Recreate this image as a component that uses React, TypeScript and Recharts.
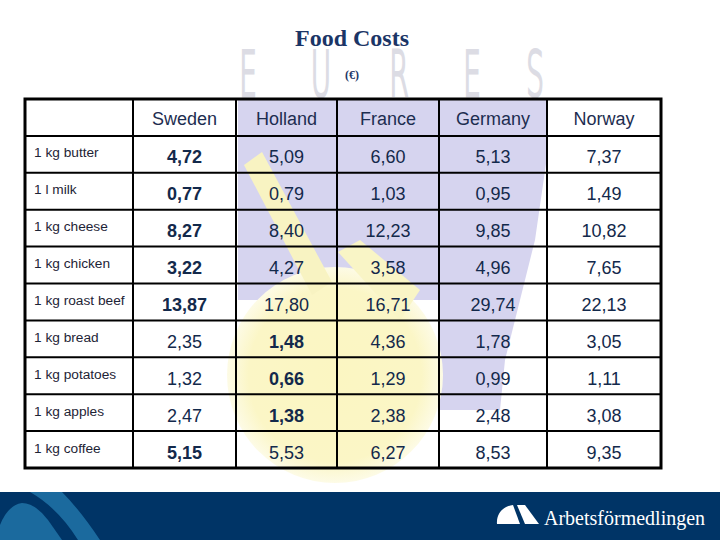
import {
  ReferenceArea,
  ReferenceLine,
  Scatter,
  ScatterChart,
  XAxis,
  YAxis,
} from 'recharts';

const countries = ['Sweden', 'Holland', 'France', 'Germany', 'Norway'];
const products = [
  '1 kg butter',
  '1 l milk',
  '1 kg cheese',
  '1 kg chicken',
  '1 kg roast beef',
  '1 kg bread',
  '1 kg potatoes',
  '1 kg apples',
  '1 kg coffee',
];
const sweden = [4.72, 0.77, 8.27, 3.22, 13.87, 2.35, 1.32, 2.47, 5.15];
const holland = [5.09, 0.79, 8.4, 4.27, 17.8, 1.48, 0.66, 1.38, 5.53];
const france = [6.6, 1.03, 12.23, 3.58, 16.71, 4.36, 1.29, 2.38, 6.27];
const germany = [5.13, 0.95, 9.85, 4.96, 29.74, 1.78, 0.99, 2.48, 8.53];
const norway = [7.37, 1.49, 10.82, 7.65, 22.13, 3.05, 1.11, 3.08, 9.35];

const series = [sweden, holland, france, germany, norway];

// column edges of the table, in px from its left border (layout only)
const colEdges = [0, 108, 211, 312, 414, 522, 636];
const colCenter = (i: number) => (colEdges[i] + colEdges[i + 1]) / 2;

const font = "'Liberation Sans', Arial, sans-serif";
const navy = '#13294b';

const headerData = countries.map((name, i) => ({
  x: colCenter(i + 1),
  y: 0.5,
  name,
}));

const productData = products.map((name, r) => ({
  x: colEdges[0],
  y: r + 1.5,
  name,
}));

// the cheapest price of each row is printed in bold
const valueData = products.flatMap((_, r) => {
  const row = series.map((s) => s[r]);
  const min = Math.min(...row);
  return row.map((v, c) => ({
    x: colCenter(c + 1),
    y: r + 1.5,
    name: v.toFixed(2).replace('.', ','),
    bold: v === min,
  }));
});

const HeaderCell = (p: any) => (
  <text x={p.cx} y={p.cy + 8} textAnchor='middle' fontFamily={font} fontSize={18} fill='#1d2d50'>
    {p.payload.name}
  </text>
);

const ProductCell = (p: any) => (
  <text x={p.cx + 9} y={p.cy + 3} textAnchor='start' fontFamily={font} fontSize={13.7} fill='#1e2436'>
    {p.payload.name}
  </text>
);

const ValueCell = (p: any) => (
  <text
    x={p.cx}
    y={p.cy + 9}
    textAnchor='middle'
    fontFamily={font}
    fontSize={18}
    fontWeight={p.payload.bold ? 'bold' : 'normal'}
    fill={navy}
  >
    {p.payload.name}
  </text>
);

function Backdrop() {
  const letters = [
    ['E', 248],
    ['U', 321],
    ['R', 399],
    ['E', 472],
    ['S', 535],
  ] as const;
  return (
    <svg width={720} height={540} style={{ position: 'absolute', left: 0, top: 0 }}>
      <defs>
        <radialGradient id='yel' cx='50%' cy='50%' r='50%'>
          <stop offset='0%' stopColor='#fbf6c2' />
          <stop offset='80%' stopColor='#fbf6c6' />
          <stop offset='100%' stopColor='#fdfbe6' />
        </radialGradient>
      </defs>
      {letters.map(([ch, x], i) => (
        <text
          key={i}
          x={0}
          y={0}
          transform={`translate(${x} 96) scale(0.45 1)`}
          textAnchor='middle'
          fontFamily="'DejaVu Sans', sans-serif"
          fontWeight={200}
          fontSize={62}
          fill='none'
          stroke='#dcdce4'
          strokeWidth={3}
        >
          {ch}
        </text>
      ))}
      <polygon
        points='238,99 548,99 548,150 535,240 520,300 505,360 500,410 440,410 440,300 238,300'
        fill='#d6d4ef'
      />
      <circle cx={335} cy={375} r={108} fill='url(#yel)' />
      <polygon points='244,165 262,152 332,282 312,295' fill='#f8f3c2' />
      <polygon points='338,252 360,240 420,290 400,320' fill='#f9f5c6' />
      <rect x={0} y={492} width={720} height={48} fill='#003466' />
      <path d='M30,492 L62,492 Q80,510 100,540 L78,540 Q58,508 30,492 Z' fill='#1b6a9e' />
      <path d='M0,525 Q8,505 22,503 Q35,503 48,520 L62,540 L0,540 Z' fill='#1b6a9e' />
      <path d='M497,524 C496,513 504,506 513,505 L520,524 Z' fill='#ffffff' />
      <polygon points='517,505 525,505 539,524 525,524' fill='#ffffff' />
      <text x={544} y={525} fontFamily="'Liberation Serif', serif" fontSize={20} fill='#ffffff'>
        Arbetsförmedlingen
      </text>
      <text
        x={352}
        y={46}
        textAnchor='middle'
        fontFamily="'Liberation Serif', serif"
        fontWeight='bold'
        fontSize={24}
        fill='#1b3566'
      >
        Food Costs
      </text>
      <text
        x={352}
        y={79}
        textAnchor='middle'
        fontFamily="'Liberation Serif', serif"
        fontWeight='bold'
        fontSize={12}
        fill='#1b3566'
      >
        (€)
      </text>
    </svg>
  );
}

export default function App() {
  return (
    <div style={{ position: 'absolute', left: 0, top: 0, width: 720, height: 540, background: '#ffffff' }}>
      <Backdrop />
      <div style={{ position: 'absolute', left: 0, top: 0 }}>
        <ScatterChart width={720} height={540} margin={{ top: 99, right: 59, bottom: 72, left: 25 }}>
          <XAxis type='number' dataKey='x' domain={[0, 636]} hide />
          <YAxis type='number' dataKey='y' domain={[0, 10]} reversed hide />
          {colEdges.slice(1, -1).map((x) => (
            <ReferenceLine key={`c${x}`} x={x} stroke='#000' strokeWidth={2} />
          ))}
          {products.map((_, r) => (
            <ReferenceLine key={`r${r}`} y={r + 1} stroke='#000' strokeWidth={2} />
          ))}
          <ReferenceArea x1={0} x2={636} y1={0} y2={10} fill='none' stroke='#000' strokeWidth={3} />
          <Scatter data={headerData} shape={HeaderCell} isAnimationActive={false} />
          <Scatter data={productData} shape={ProductCell} isAnimationActive={false} />
          <Scatter data={valueData} shape={ValueCell} isAnimationActive={false} />
        </ScatterChart>
      </div>
    </div>
  );
}
